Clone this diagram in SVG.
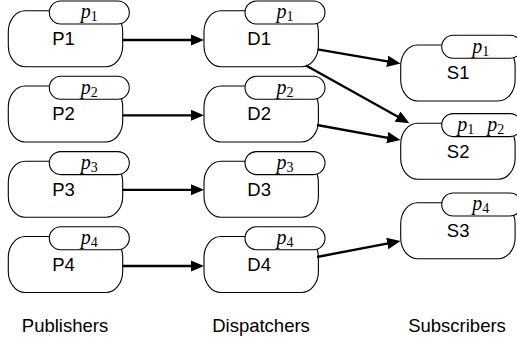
<svg xmlns="http://www.w3.org/2000/svg" width="517" height="341" viewBox="0 0 517 341">
<style>
.body{fill:#fff;stroke:#000;stroke-width:1.1}
.tag{fill:#fff;stroke:#000;stroke-width:1.1}
.lbl{font-family:"Liberation Sans",Arial,sans-serif;font-size:18.5px;text-anchor:middle;fill:#000}
.tt{font-family:"Liberation Serif","Times New Roman",serif;font-size:20px;text-anchor:middle;fill:#000}
.tt .v{font-style:italic}
.tt .s{font-size:14px}
.conn line{stroke:#000;stroke-width:2.3;fill:none}
</style>
<defs>
<marker id="ah" markerUnits="userSpaceOnUse" markerWidth="14" markerHeight="12" refX="9" refY="5.75" orient="auto">
<path d="M0,0 L13.5,5.75 L0,11.5 z" fill="#000"/>
</marker>
<g id="node">
<rect class="body" x="0" y="0" width="114.4" height="56" rx="17" ry="21"/>
<rect class="tag" x="41" y="-9.7" width="80" height="23" rx="11.5" ry="11.5"/>
</g>
</defs>
<g id="P1" transform="translate(8.3,10.7)"><use href="#node"/><text class="tt" x="81" y="7.6"><tspan class="v">p</tspan><tspan class="s" dy="3">1</tspan></text><text class="lbl" x="55.2" y="34.3">P1</text></g>
<g id="P2" transform="translate(8.3,86)"><use href="#node"/><text class="tt" x="81" y="7.6"><tspan class="v">p</tspan><tspan class="s" dy="3">2</tspan></text><text class="lbl" x="55.2" y="34.3">P2</text></g>
<g id="P3" transform="translate(8.3,161.3)"><use href="#node"/><text class="tt" x="81" y="7.6"><tspan class="v">p</tspan><tspan class="s" dy="3">3</tspan></text><text class="lbl" x="55.2" y="34.3">P3</text></g>
<g id="P4" transform="translate(8.3,236.5)"><use href="#node"/><text class="tt" x="81" y="7.6"><tspan class="v">p</tspan><tspan class="s" dy="3">4</tspan></text><text class="lbl" x="55.2" y="34.3">P4</text></g>
<g id="D1" transform="translate(204,10.7)"><use href="#node"/><text class="tt" x="81" y="7.6"><tspan class="v">p</tspan><tspan class="s" dy="3">1</tspan></text><text class="lbl" x="55.2" y="34.3">D1</text></g>
<g id="D2" transform="translate(204,86)"><use href="#node"/><text class="tt" x="81" y="7.6"><tspan class="v">p</tspan><tspan class="s" dy="3">2</tspan></text><text class="lbl" x="55.2" y="34.3">D2</text></g>
<g id="D3" transform="translate(204,161.3)"><use href="#node"/><text class="tt" x="81" y="7.6"><tspan class="v">p</tspan><tspan class="s" dy="3">3</tspan></text><text class="lbl" x="55.2" y="34.3">D3</text></g>
<g id="D4" transform="translate(204,236.5)"><use href="#node"/><text class="tt" x="81" y="7.6"><tspan class="v">p</tspan><tspan class="s" dy="3">4</tspan></text><text class="lbl" x="55.2" y="34.3">D4</text></g>
<g id="S1" transform="translate(400.7,45)"><use href="#node"/><text class="tt" x="80" y="7.6"><tspan class="v">p</tspan><tspan class="s" dy="3">1</tspan></text><text class="lbl" x="57.5" y="34.3">S1</text></g>
<g id="S2" transform="translate(400.7,123.3)"><use href="#node"/><text class="tt" x="80" y="7.6"><tspan class="v">p</tspan><tspan class="s" dy="3">1</tspan><tspan class="v" dx="13" dy="-3">p</tspan><tspan class="s" dy="3">2</tspan></text><text class="lbl" x="57.5" y="34.3">S2</text></g>
<g id="S3" transform="translate(400.7,202.7)"><use href="#node"/><text class="tt" x="80" y="7.6"><tspan class="v">p</tspan><tspan class="s" dy="3">4</tspan></text><text class="lbl" x="57.5" y="34.3">S3</text></g>
<g id="connectors" class="conn">
<line x1="122.7" y1="40" x2="199.5" y2="40" marker-end="url(#ah)"/>
<line x1="122.7" y1="115.3" x2="199.5" y2="115.3" marker-end="url(#ah)"/>
<line x1="122.7" y1="189.8" x2="199.5" y2="189.8" marker-end="url(#ah)"/>
<line x1="122.7" y1="266" x2="199.5" y2="266" marker-end="url(#ah)"/>
<line x1="317.5" y1="49.3" x2="396.1" y2="62.8" marker-end="url(#ah)"/>
<line x1="306" y1="65.5" x2="405.5" y2="121" marker-end="url(#ah)"/>
<line x1="317" y1="125" x2="396.1" y2="139.3" marker-end="url(#ah)"/>
<line x1="317" y1="257" x2="396.1" y2="241.8" marker-end="url(#ah)"/>
</g>
<g id="labels">
<text class="lbl" x="65" y="331.5">Publishers</text>
<text class="lbl" x="261" y="331.5">Dispatchers</text>
<text class="lbl" x="457" y="331.5">Subscribers</text>
</g>
</svg>
